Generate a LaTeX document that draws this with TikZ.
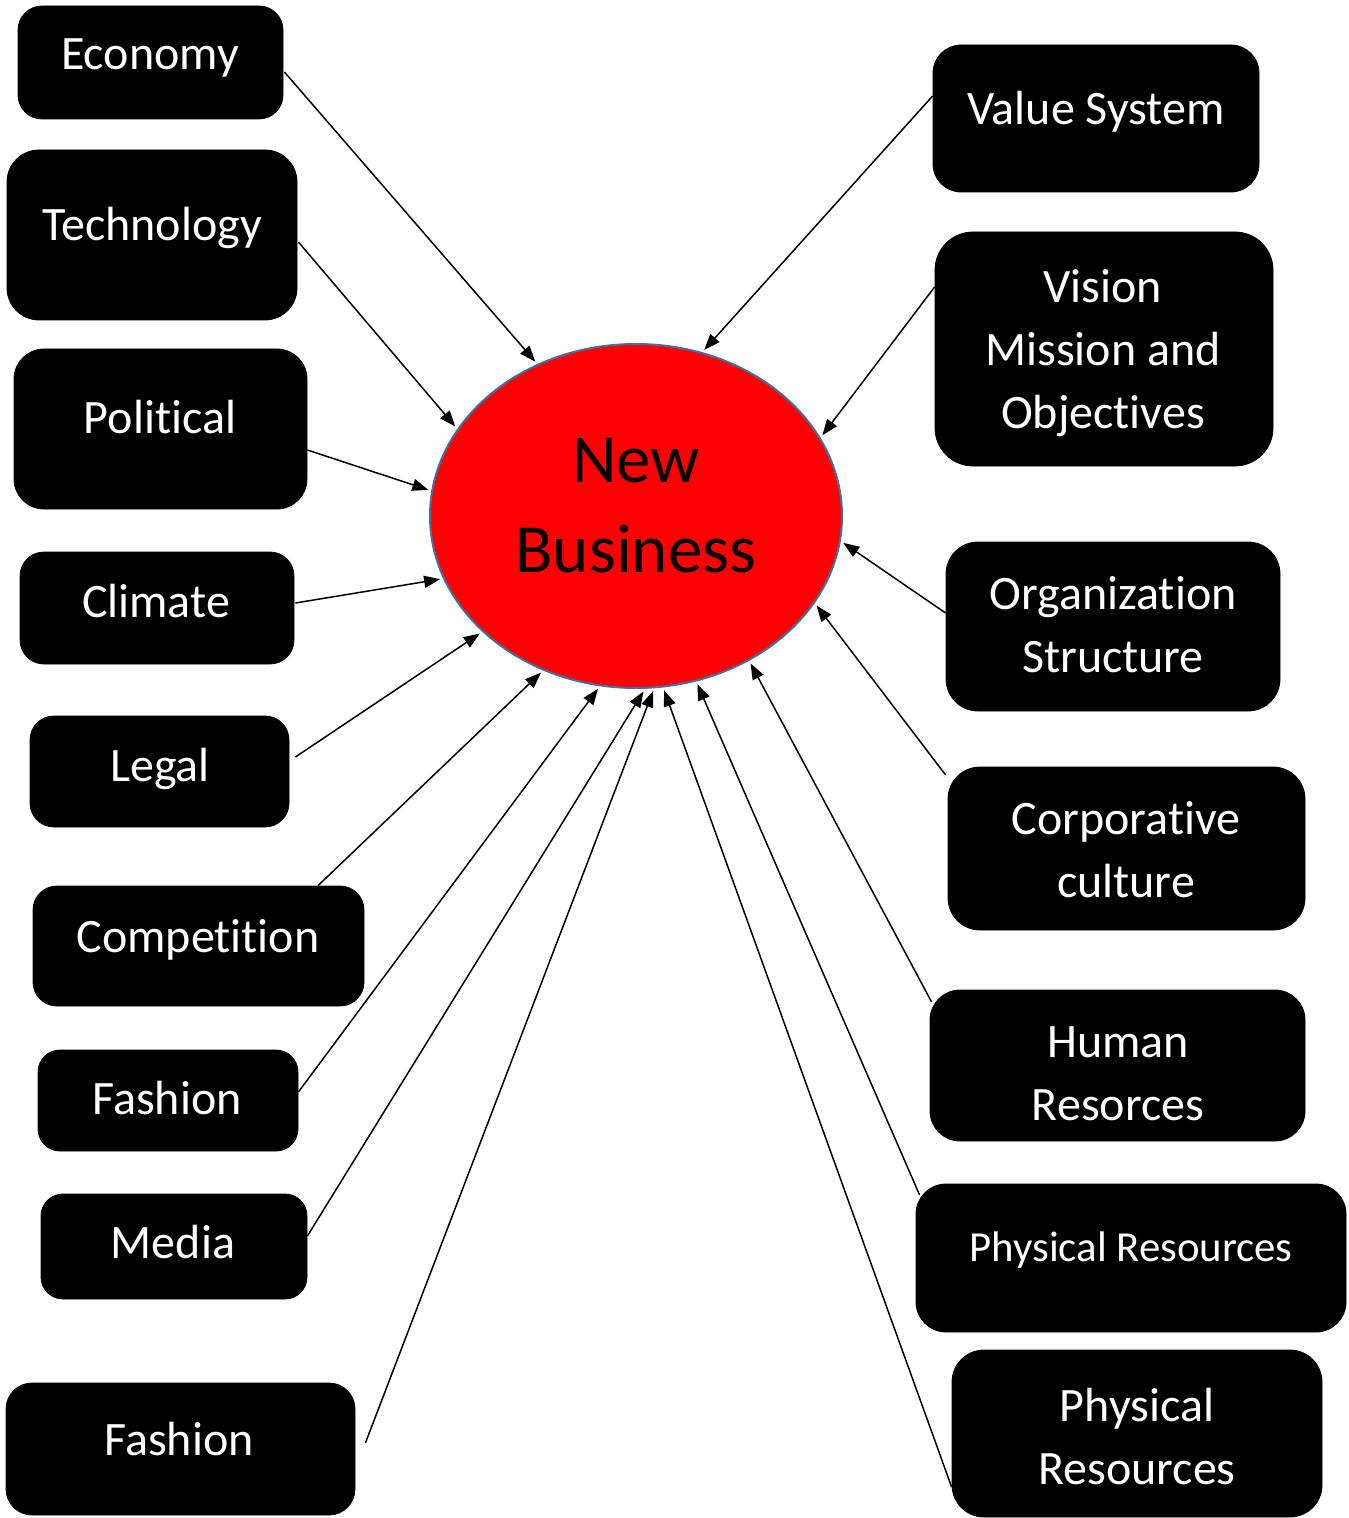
\documentclass[tikz,border=0pt]{standalone}
\usepackage{fontspec}
\setmainfont{Carlito}[Ligatures=NoCommon]
\usetikzlibrary{shapes.geometric,arrows.meta,calc}
\definecolor{rimblue}{HTML}{41719C}
\begin{document}
\begin{tikzpicture}[x=0.5pt,y=-0.5pt,
  box/.style={fill=black,draw=black,rounded corners=#1,inner sep=0pt},
  label/.style={text=white,font=\fontsize{24}{31.5}\selectfont,anchor=base,align=center,inner sep=0pt},
  smalllabel/.style={text=white,font=\fontsize{21.4}{26}\selectfont,anchor=base,inner sep=0pt},
  bigtext/.style={anchor=base,inner sep=0pt,font=\fontsize{34.5}{45}\selectfont},
  link/.style={draw=black,line width=0.75pt,-{Triangle[length=8pt,width=6pt]},shorten >=1.5pt}]
\useasboundingbox (0,0) rectangle (1348,1518);

% central ellipse
\node[ellipse,fill=red,draw=rimblue,line width=1pt,minimum width=206pt,minimum height=172pt,inner sep=0pt] (nb) at (636,516) {};
\node[bigtext] (nbt1) at (636,482) {New};
\node[bigtext] (nbt2) at (636,572) {Business};

% left column (multi-line labels sit on the baseline of their last line)
\node[box=12pt,minimum width=132.5pt,minimum height=56.5pt] (eco) at (150.5,62.5) {};
\node[label] at (150,70) {Economy};
\node[box=16pt,minimum width=145pt,minimum height=85pt] (tech) at (152,235) {};
\node[label] at (152,241) {Technology};
\node[box=15pt,minimum width=146.5pt,minimum height=80pt] (pol) at (160.5,429) {};
\node[label] at (160,434) {Political};
\node[box=12pt,minimum width=137pt,minimum height=56pt] (clim) at (157,608) {};
\node[label] at (156,617) {Climate};
\node[box=12pt,minimum width=129.5pt,minimum height=55.5pt] (legal) at (159.5,771.5) {};
\node[label] at (160,781) {Legal};
\node[box=12pt,minimum width=165.5pt,minimum height=60pt] (comp) at (198.5,946) {};
\node[label] at (198,952) {Competition};
\node[box=11pt,minimum width=130pt,minimum height=50.5pt] (fash) at (168,1100.5) {};
\node[label] at (167,1114) {Fashion};
\node[box=11pt,minimum width=133pt,minimum height=52.5pt] (media) at (174,1246.5) {};
\node[label] at (173,1258) {Media};
\node[box=13pt,minimum width=174.5pt,minimum height=66pt] (fashb) at (180.5,1449) {};
\node[label] at (179,1455) {Fashion};

% right column
\node[box=14pt,minimum width=163pt,minimum height=73.5pt] (value) at (1096,118.5) {};
\node[label] at (1096,125) {Value System};
\node[box=19pt,minimum width=169pt,minimum height=117pt] (vision) at (1104,349) {};
\node[label] at (1103,429) {Vision\\Mission and\\Objectives};
\node[box=16pt,minimum width=167pt,minimum height=84.5pt] (org) at (1113,626.5) {};
\node[label] at (1113,672) {Organization\\Structure};
\node[box=16pt,minimum width=178.5pt,minimum height=81.5pt] (corp) at (1126.5,848.5) {};
\node[label] at (1126,897) {Corporative\\culture};
\node[box=15pt,minimum width=187.5pt,minimum height=75.5pt] (human) at (1117.5,1065.5) {};
\node[label] at (1118,1120) {Human\\Resorces};
\node[box=15pt,minimum width=215pt,minimum height=74pt] (phys) at (1131,1258) {};
\node[smalllabel] at (1131,1261) {Physical Resources};
\node[box=16pt,minimum width=185pt,minimum height=83.5pt] (physb) at (1137,1433.5) {};
\node[label] at (1137,1484) {Physical\\Resources};

% connectors
\draw[link] ($(eco.east)+(1,9.5)$) -- (nb.123.1);
\draw[link] ($(tech.east)+(1,7)$) -- (nb.154);
\draw[link] ($(pol.east)+(0,21)$) -- (nb.173.2);
\draw[link] ($(clim.east)+(1,-5)$) -- (nb.198);
\draw[link] ($(legal.east)+(6,-14.5)$) -- (nb.217.1);
\draw[link] ($(comp.north)+(119.5,0)$) -- (nb.239.4);
\draw[link] ($(fash.east)+(0,-8.5)$) -- (nb.258.1);
\draw[link] ($(media.east)+(0,-10.5)$) -- (nb.273.3);
\draw[link] ($(fashb.east)+(10,-6)$) -- (nb.276.8);
\draw[link] ($(value.west)+(0,-22.5)$) -- (nb.68.6);
\draw[link] ($(vision.west)+(0,-62)$) -- (nb.23.3);
\draw[link] ($(org.west)+(0,-13.5)$) -- (nb.353.1);
\draw[link] ($(corp.west)+(-2,-73.5)$) -- (nb.334.9);
\draw[link] ($(human.west)+(2,-63.5)$) -- (nb.308.4);
\draw[link] ($(phys.west)+(4,-63)$) -- (nb.290.1);
\draw[link] ($(physb.west)+(0,53.5)$) -- (nb.279.4);
\end{tikzpicture}
\end{document}
